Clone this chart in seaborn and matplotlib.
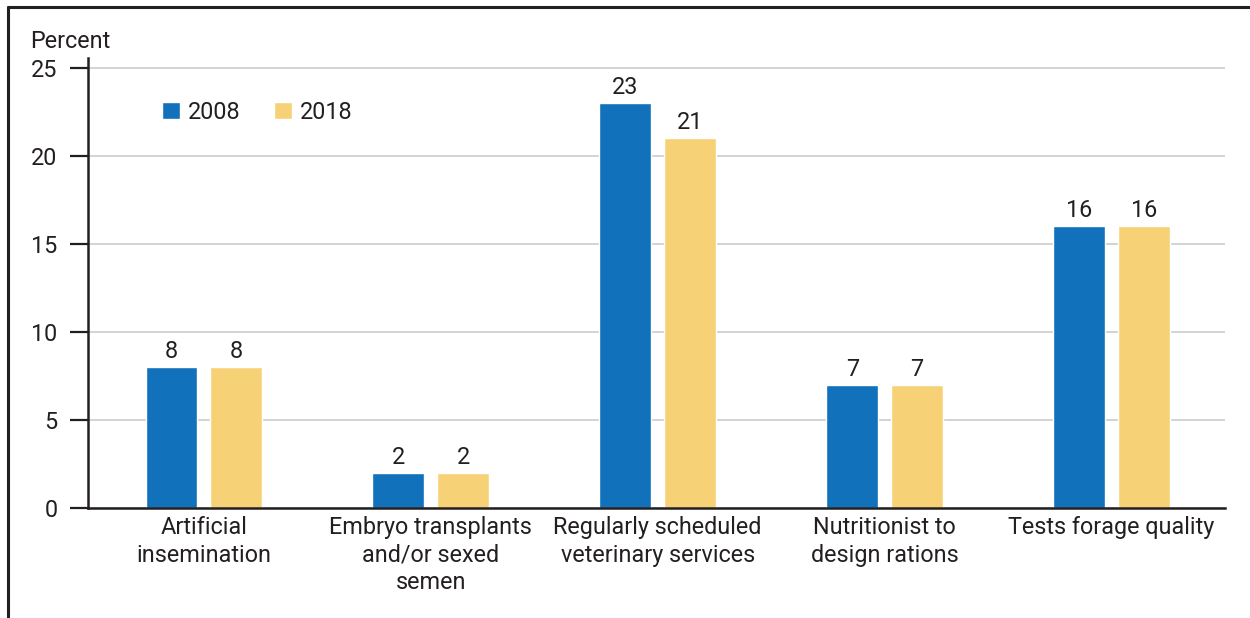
import matplotlib
matplotlib.use("Agg")
import matplotlib.pyplot as plt
import pandas as pd
import seaborn as sns
from matplotlib.lines import Line2D

categorias = [
    "Artificial\ninsemination",
    "Embryo transplants\nand/or sexed\nsemen",
    "Regularly scheduled\nveterinary services",
    "Nutritionist to\ndesign rations",
    "Tests forage quality",
]
valores_2008 = [8, 2, 23, 7, 16]
valores_2018 = [8, 2, 21, 7, 16]
anios = ["2008", "2018"]
yticks = [0, 5, 10, 15, 20, 25]

df = pd.DataFrame({
    "categoria": categorias * 2,
    "anio": [anios[0]] * len(categorias) + [anios[1]] * len(categorias),
    "valor": valores_2008 + valores_2018,
})

sns.set_style("white")
plt.rcParams["font.family"] = ["Roboto", "DejaVu Sans"]
TXT = "#231f20"
FS = 16.8

fig = plt.figure(figsize=(12.5, 6.18), dpi=100)
ax = fig.add_axes([88 / 1250, 1 - 508 / 618, (1225 - 88) / 1250, (508 - 58) / 618])

sns.barplot(data=df, x="categoria", y="valor", hue="anio", order=categorias,
            hue_order=anios, palette=["#1172bb", "#f7d175"], width=0.57,
            gap=0.2, saturation=1, ax=ax)

for cont in ax.containers:
    ax.bar_label(cont, fmt="%g", padding=3, fontsize=FS, color=TXT)

ax.set_xlim(-0.51, 4.5)
ax.set_ylim(0, 25.57)
ax.set_yticks(yticks)
ax.yaxis.grid(True, color="#cccccc", linewidth=1.2)
ax.set_axisbelow(True)
ax.set_xlabel("")
ax.set_ylabel("")
for s in ["top", "right"]:
    ax.spines[s].set_visible(False)
for s in ["left", "bottom"]:
    ax.spines[s].set_color(TXT)
    ax.spines[s].set_linewidth(1.8)
ax.tick_params(axis="y", length=13, width=1.6, color=TXT, pad=9,
               labelsize=FS, labelcolor=TXT, left=True)
ax.tick_params(axis="x", length=0, pad=6, labelsize=FS, labelcolor=TXT)
for lab in ax.get_xticklabels():
    lab.set_linespacing(1.25)
    lab.set_verticalalignment("top")

leg = ax.legend(ncol=2, frameon=False, fontsize=FS, loc="upper left",
                bbox_to_anchor=(0.057, 0.925), handlelength=0.75,
                handleheight=0.75, handletextpad=0.35, columnspacing=1.45,
                borderaxespad=0)
for t in leg.get_texts():
    t.set_color(TXT)

fig.text(30 / 1250, 1 - 41 / 618, "Percent", fontsize=FS, color=TXT,
         va="center", ha="left")

# marco recortado (arriba e izquierda)
fig.add_artist(Line2D([8 / 1250, 1], [1 - 7 / 618, 1 - 7 / 618],
                      color=TXT, linewidth=2.2, transform=fig.transFigure))
fig.add_artist(Line2D([8 / 1250, 8 / 1250], [1 - 7 / 618, 0],
                      color=TXT, linewidth=2.2, transform=fig.transFigure))

fig.savefig("out.png", dpi=100)
